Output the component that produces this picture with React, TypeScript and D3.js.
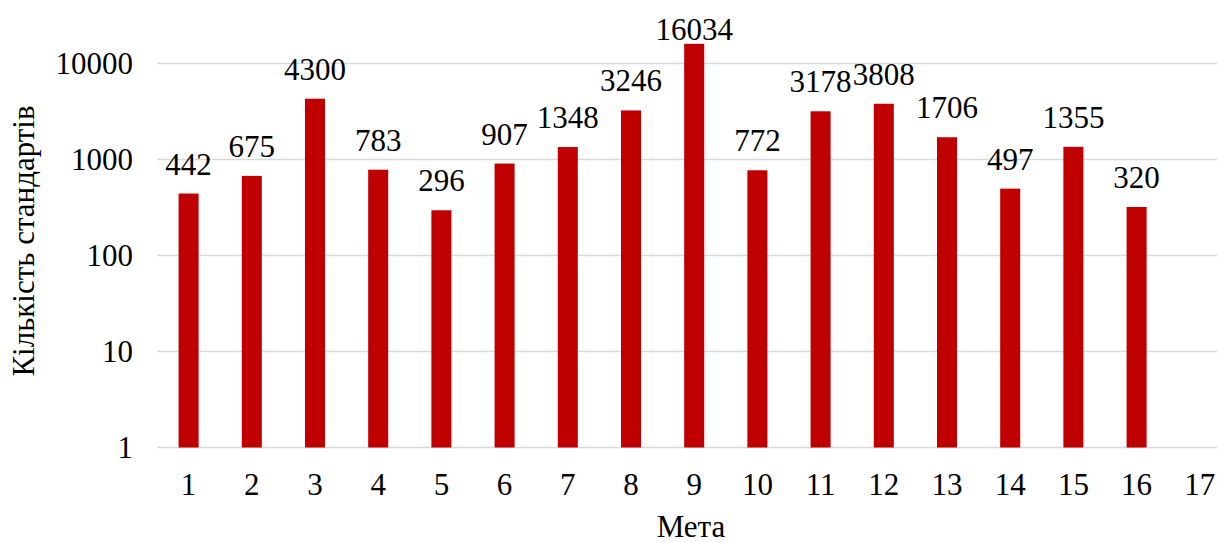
import React from "react";
import * as d3 from "d3";

const categories: string[] = ["1","2","3","4","5","6","7","8","9","10","11","12","13","14","15","16","17"];
const values: (number | null)[] = [442, 675, 4300, 783, 296, 907, 1348, 3246, 16034, 772, 3178, 3808, 1706, 497, 1355, 320, null];
const yTicks: number[] = [1, 10, 100, 1000, 10000];
const xTitle = "Мета";
const yTitle = "Кількість стандартів";

const W = 1217;
const H = 542;
const FONT = '"Liberation Serif", "Times New Roman", Times, serif';

export default function App() {
  const plotLeft = 157;
  const step = 63.2;
  const x = d3.scaleBand<string>().domain(categories).range([plotLeft, plotLeft + step * categories.length]).padding(0);
  const y = d3.scaleLog().domain([1, 10000]).range([447.5, 63.5]);
  const barW = x.bandwidth() * 0.317;
  const cx = (c: string) => (x(c) as number) + x.bandwidth() / 2;
  const ts: React.CSSProperties = { fontFamily: FONT, fontSize: "31px" };

  return (
    <svg width={W} height={H} style={{ position: "absolute", left: 0, top: 0, display: "block", background: "#fff", fontFamily: FONT }}>
      <rect x={0} y={0} width={W} height={H} fill="#fff" />
      {yTicks.map((t) => (
        <g key={t}>
          <line x1={plotLeft} x2={W} y1={y(t)} y2={y(t)} stroke="#d9d9d9" strokeWidth={1.3} />
          <text x={133} y={y(t) + 10.5} textAnchor="end" style={ts} fill="#000">{t}</text>
        </g>
      ))}
      {categories.map((c, i) => {
        const v = values[i];
        return (
          <g key={c}>
            {v != null && (
              <>
                <rect x={cx(c) - barW / 2} y={y(v)} width={barW} height={y(1) - y(v)} fill="#c00000" />
                <text x={cx(c)} y={Math.max(y(v) - 19, 39.5)} textAnchor="middle" style={ts} fill="#000">{v}</text>
              </>
            )}
            <text x={cx(c)} y={495} textAnchor="middle" style={ts} fill="#000">{c}</text>
          </g>
        );
      })}
      <text x={691} y={537} textAnchor="middle" style={ts} fill="#000">{xTitle}</text>
      <text transform={`translate(34, 241) rotate(-90)`} textAnchor="middle" style={ts} fill="#000">{yTitle}</text>
    </svg>
  );
}
